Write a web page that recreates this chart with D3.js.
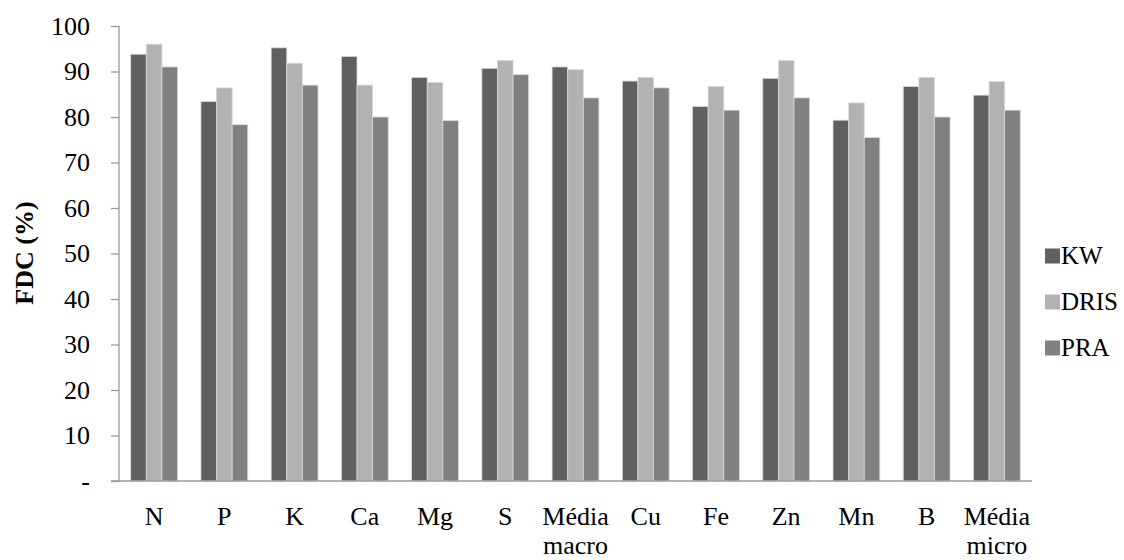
<!DOCTYPE html>
<html>
<head>
<meta charset="utf-8">
<script src="https://cdn.jsdelivr.net/npm/d3@7"></script>
<style>
  html, body { margin: 0; padding: 0; background: #fff; }
  svg { display: block; }
</style>
</head>
<body>
<svg id="chart" width="1124" height="560"></svg>
<script>
// Nutrient categories (multi-word labels wrap onto two lines)
const categories = ["N", "P", "K", "Ca", "Mg", "S", "Média macro", "Cu", "Fe", "Zn", "Mn", "B", "Média micro"];

// FDC (%) per diagnostic method
const kw   = [93.8, 83.4, 95.2, 93.3, 88.7, 90.7, 91.0, 87.9, 82.3, 88.5, 79.3, 86.7, 84.8];
const dris = [96.0, 86.4, 91.8, 87.0, 87.6, 92.4, 90.4, 88.7, 86.7, 92.4, 83.1, 88.7, 87.8];
const pra  = [91.0, 78.3, 87.0, 80.0, 79.2, 89.3, 84.2, 86.4, 81.5, 84.2, 75.5, 80.0, 81.5];

const seriesNames = ["KW", "DRIS", "PRA"];
const seriesColors = ["#606060", "#b2b2b2", "#808080"];
const yTicks = [0, 10, 20, 30, 40, 50, 60, 70, 80, 90, 100];

const SERIF = "'Liberation Serif', 'Times New Roman', 'DejaVu Serif', serif";

const seriesValues = [kw, dris, pra];
const rows = categories.map((c, i) => ({
  cat: c,
  values: seriesNames.map((s, j) => ({ key: s, value: seriesValues[j][i] }))
}));

const svg = d3.select("#chart");

const plot = { left: 119, right: 1032, top: 26, bottom: 481 };

const x = d3.scaleBand()
  .domain(categories)
  .range([plot.left, plot.right])
  .paddingInner(1 / 3)
  .paddingOuter(1 / 6);

const xs = d3.scaleBand()
  .domain(seriesNames)
  .range([0, x.bandwidth()]);

const y = d3.scaleLinear()
  .domain([0, 100])
  .range([plot.bottom, plot.top]);

const color = d3.scaleOrdinal().domain(seriesNames).range(seriesColors);

// Bars
svg.append("g")
  .selectAll("g")
  .data(rows)
  .join("g")
  .attr("transform", d => `translate(${x(d.cat)},0)`)
  .selectAll("rect")
  .data(d => d.values)
  .join("rect")
  .attr("x", d => xs(d.key))
  .attr("y", d => y(d.value))
  .attr("width", xs.bandwidth())
  .attr("height", d => y(0) - y(d.value))
  .attr("fill", d => color(d.key))
  .attr("stroke", "#d8d8d8")
  .attr("stroke-width", 0.8);

// Y axis
const yAxis = svg.append("g")
  .attr("transform", `translate(${plot.left},0)`)
  .call(d3.axisLeft(y)
    .tickValues(yTicks)
    .tickSize(8)
    .tickPadding(21)
    .tickFormat(d => d === 0 ? "-" : d));
yAxis.select(".domain").attr("stroke", "#9a9a9a").attr("stroke-width", 1.3)
  .attr("d", `M0,${plot.top}V${plot.bottom}`);
yAxis.selectAll(".tick line").attr("stroke", "#9a9a9a").attr("stroke-width", 1.3);
yAxis.selectAll(".tick text")
  .style("font-family", SERIF)
  .style("font-size", "26px")
  .attr("fill", "#000");

// X axis baseline
svg.append("line")
  .attr("x1", plot.left - 8)
  .attr("x2", plot.right)
  .attr("y1", y(0))
  .attr("y2", y(0))
  .attr("stroke", "#9a9a9a")
  .attr("stroke-width", 1.3);

// Category labels
const xLabels = svg.append("g")
  .selectAll("text")
  .data(categories)
  .join("text")
  .attr("x", d => x(d) + x.bandwidth() / 2)
  .attr("y", 525)
  .attr("text-anchor", "middle")
  .style("font-family", SERIF)
  .style("font-size", "26px");
xLabels.each(function (d) {
  const parts = d.split(" ");
  d3.select(this).selectAll("tspan")
    .data(parts)
    .join("tspan")
    .attr("x", x(d) + x.bandwidth() / 2)
    .attr("dy", (p, i) => i === 0 ? 0 : 29)
    .text(p => p);
});

// Y axis title
svg.append("text")
  .attr("transform", "translate(33,253) rotate(-90)")
  .attr("text-anchor", "middle")
  .style("font-family", SERIF)
  .style("font-size", "26px")
  .style("font-weight", "bold")
  .text("FDC (%)");

// Legend
const legend = svg.append("g")
  .selectAll("g")
  .data(seriesNames)
  .join("g")
  .attr("transform", (d, i) => `translate(1045,${256 + i * 46})`);
legend.append("rect")
  .attr("x", 0)
  .attr("y", -7.5)
  .attr("width", 15)
  .attr("height", 15)
  .attr("fill", d => color(d));
legend.append("text")
  .attr("x", 16)
  .attr("y", 8)
  .style("font-family", SERIF)
  .style("font-size", "25px")
  .text(d => d);
</script>
</body>
</html>
